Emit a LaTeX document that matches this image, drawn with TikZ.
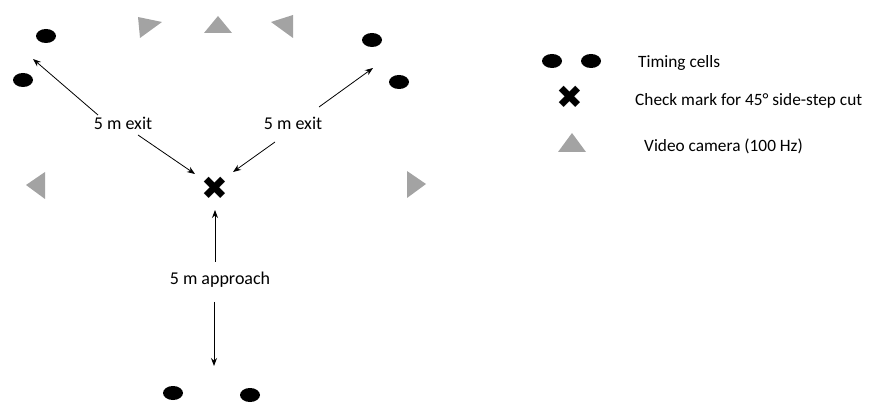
\documentclass[tikz,border=0pt]{standalone}
\usepackage{fontspec}
\setmainfont{Carlito}
\newfontfamily\symfont{DejaVu Sans}
\usetikzlibrary{shapes.geometric,arrows.meta}
\definecolor{camgray}{RGB}{163,163,163}
\begin{document}
\begin{tikzpicture}[x=1pt,y=-1pt,
  dot/.style={ellipse,fill=black,minimum width=20pt,minimum height=14pt,inner sep=0pt},
  cam/.style={fill=camgray},
  xmark/.style={inner sep=0pt,font=\symfont\fontsize{32}{32}\selectfont},
  lbl/.style={inner sep=1pt,font=\fontsize{18}{20}\selectfont},
  leg/.style={inner sep=1pt,font=\fontsize{17.3}{20}\selectfont},
  arr/.style={-{Stealth[length=8pt,width=6pt]},line width=0.8pt}]
\useasboundingbox (0,0) rectangle (873,403);
% timing cells
\node[dot] (d1) at (46,36) {};
\node[dot] (d2) at (23,80) {};
\node[dot] (d3) at (372,40) {};
\node[dot] (d4) at (399,82) {};
\node[dot] (d5) at (173,393) {};
\node[dot] (d6) at (250,395) {};
% cameras
\fill[cam] (138,17) -- (162,22) -- (140,38) -- cycle;
\fill[cam] (204,33) -- (232,33) -- (218,16) -- cycle;
\fill[cam] (271,22) -- (293,15) -- (293,38) -- cycle;
\fill[cam] (26,185) -- (45,172) -- (45,199) -- cycle;
\fill[cam] (407,171) -- (407,198) -- (426,184) -- cycle;
% check mark
\node[xmark] (cut) at (215,188) {✖};
% labels
\node[lbl] (exitL) at (123,123) {5 m exit};
\node[lbl] (exitR) at (293,123) {5 m exit};
\node[lbl] (appr) at (220,280) {5 m approach};
% arrow ends
\coordinate (sA) at (98,115);  \coordinate (tA) at (33,59);
\coordinate (sB) at (138,135); \coordinate (tB) at (195,174);
\coordinate (sC) at (319,107); \coordinate (tC) at (373,68);
\coordinate (sD) at (275,142); \coordinate (tD) at (233,172);
\coordinate (sE) at (215,262); \coordinate (tE) at (215,210);
\coordinate (sF) at (214,302); \coordinate (tF) at (214,366);
\draw[arr] (sA) -- (tA);
\draw[arr] (sB) -- (tB);
\draw[arr] (sC) -- (tC);
\draw[arr] (sD) -- (tD);
\draw[arr] (sE) -- (tE);
\draw[arr] (sF) -- (tF);
% legend
\node[dot] (ld1) at (552,61) {};
\node[dot] (ld2) at (591,61) {};
\node[xmark] (lx) at (570,97) {✖};
\fill[cam] (558,152) -- (586,152) -- (572,133) -- cycle;
\node[leg,anchor=west] (t1) at (637,63) {Timing cells};
\node[leg,anchor=west] (t2) at (634,101) {Check mark for 45° side-step cut};
\node[leg,anchor=west] (t3) at (643,146) {Video camera (100 Hz)};
\end{tikzpicture}
\end{document}
